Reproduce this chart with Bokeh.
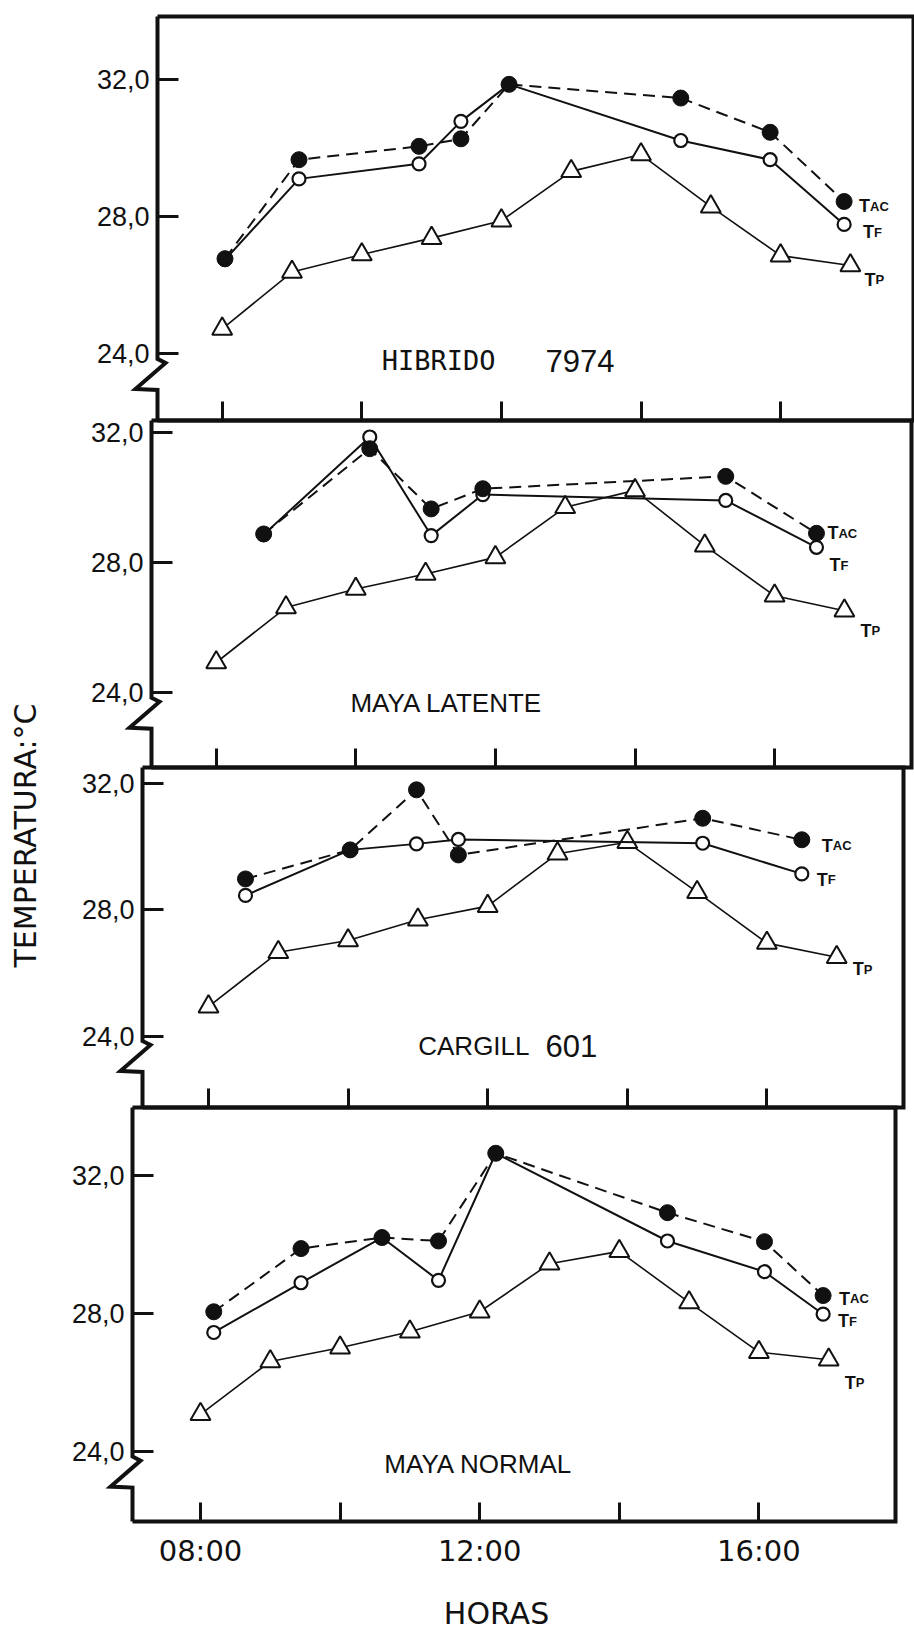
import math
from bokeh.plotting import figure
from bokeh.models import Range1d, LinearAxis, FixedTicker, Label
from bokeh.embed import file_html
from bokeh.resources import INLINE

W, H = 914, 1635

# ---------------- data ----------------
tp_hours = [8, 9, 10, 11, 12, 13, 14, 15, 16, 17]

p1_hours = [8.04, 9.10, 10.82, 11.42, 12.11, 14.57, 15.85, 16.91]
p1_tac = [26.78, 29.67, 30.06, 30.28, 31.87, 31.47, 30.47, 28.45]
p1_tf = [26.75, 29.11, 29.55, 30.79, 31.87, 30.23, 29.67, 27.78]
p1_tp = [24.73, 26.39, 26.90, 27.38, 27.89, 29.33, 29.82, 28.30, 26.87, 26.58]

p2_hours = [8.68, 10.20, 11.08, 11.82, 15.30, 16.60]
p2_tac = [28.88, 31.50, 29.65, 30.27, 30.65, 28.90]
p2_tf = [28.86, 31.86, 28.83, 30.09, 29.91, 28.47]
p2_tp = [24.93, 26.62, 27.19, 27.65, 28.16, 29.70, 30.22, 28.52, 26.98, 26.52]

p3_hours = [8.53, 10.03, 10.98, 11.58, 15.08, 16.50]
p3_tac = [28.97, 29.89, 31.79, 29.73, 30.89, 30.21]
p3_tf = [28.45, 29.89, 30.08, 30.22, 30.10, 29.13]
p3_tp = [24.93, 26.65, 27.02, 27.68, 28.11, 29.77, 30.13, 28.55, 26.94, 26.49]

p4_hours = [8.19, 9.44, 10.60, 11.41, 12.23, 14.69, 16.08, 16.92]
p4_tac = [28.05, 29.88, 30.20, 30.10, 32.64, 30.92, 30.08, 28.52]
p4_tf = [27.45, 28.89, 30.20, 28.96, 32.64, 30.10, 29.21, 27.98]
p4_tp = [25.08, 26.61, 27.01, 27.47, 28.05, 29.44, 29.80, 28.32, 26.88, 26.66]

y_ticks = [24, 28, 32]
y_tick_labels = {24: "24,0", 28: "28,0", 32: "32,0"}
x_ticks = [8, 10, 12, 14, 16]
x_tick_labels = {8: "08:00", 10: "", 12: "12:00", 14: "", 16: "16:00"}

panel_titles = [("HIBRIDO", "7974"), ("MAYA LATENTE", ""), ("CARGILL", "601"), ("MAYA NORMAL", "")]
series_names = [("T", "AC"), ("T", "F"), ("T", "P")]

# ---------------- layout (pixels, y measured from the top) ----------------
PXH = 69.8  # pixels per hour
geo = [
    dict(x8=221.7, y28=216.4, ppu=34.25, ax=157, rx=913, top=16, bot=420,
         title=(497, 360), lab=[(15, 5), (19, 8), (14, 14)]),
    dict(x8=215.7, y28=562.1, ppu=32.54, ax=151, rx=911, top=420, bot=767,
         title=(446, 702), lab=[(11, 0), (13, 18), (16, 20)]),
    dict(x8=208.0, y28=909.1, ppu=31.6, ax=142, rx=903, top=767, bot=1107,
         title=(503, 1045), lab=[(20, 6), (15, 6), (16, 12)]),
    dict(x8=200.0, y28=1313.0, ppu=34.53, ax=132, rx=895, top=1107, bot=1521,
         title=(478, 1463), lab=[(16, 3), (15, 7), (16, 23)]),
]
series = [
    (p1_hours, p1_tac, p1_tf, p1_tp),
    (p2_hours, p2_tac, p2_tf, p2_tp),
    (p3_hours, p3_tac, p3_tf, p3_tp),
    (p4_hours, p4_tac, p4_tf, p4_tp),
]

xr, yr = {}, {}
for k, g in enumerate(geo):
    xs = 8 - g["x8"] / PXH
    xr[f"x{k}"] = Range1d(xs, xs + W / PXH)
    ye = 28 + g["y28"] / g["ppu"]
    yr[f"y{k}"] = Range1d(ye - H / g["ppu"], ye)

p = figure(width=W, height=H, x_range=Range1d(0, W), y_range=Range1d(H, 0),
           x_axis_location=None, y_axis_location=None, min_border=0,
           output_backend="svg", toolbar_location=None, title=None)
p.extra_x_ranges = xr
p.extra_y_ranges = yr
p.outline_line_color = None
p.background_fill_color = "white"
p.border_fill_color = "white"
p.grid.grid_line_color = None
p.grid.visible = False

BLACK = "#111111"
TICK_FONT_Y = "Liberation Sans"
SANS = "DejaVu Sans"

for k, g in enumerate(geo):
    xn, yn = f"x{k}", f"y{k}"
    hours, tac, tf, tp = series[k]

    # frame: left axis with a break, right side, top and bottom
    y24 = g["y28"] + 4 * g["ppu"]
    ax = g["ax"]
    p.line([ax, ax, ax + 8, ax - 22, ax, ax],
           [g["top"], y24 + 5, y24 + 9, y24 + 35, y24 + 36, g["bot"]],
           line_color=BLACK, line_width=4, line_join="miter")
    p.line([ax, g["rx"], g["rx"], ax], [g["top"], g["top"], g["bot"], g["bot"]],
           line_color=BLACK, line_width=4, line_join="miter")

    # y axis (ticks inward)
    yax = LinearAxis(x_range_name="default", y_range_name=yn, fixed_location=ax,
                     ticker=FixedTicker(ticks=y_ticks), major_label_overrides=y_tick_labels,
                     major_tick_in=21, major_tick_out=0, minor_tick_in=0, minor_tick_out=0,
                     axis_line_color=None, major_tick_line_width=3, major_tick_line_color=BLACK,
                     major_label_standoff=8, major_label_text_font=TICK_FONT_Y,
                     major_label_text_font_size="27px", major_label_text_color=BLACK)
    p.add_layout(yax, "left")

    # x axis at the bottom of the panel (ticks inward)
    xax = LinearAxis(x_range_name=xn, y_range_name="default", fixed_location=g["bot"],
                     ticker=FixedTicker(ticks=x_ticks), major_label_overrides=x_tick_labels,
                     major_tick_in=19, major_tick_out=0, minor_tick_in=0, minor_tick_out=0,
                     axis_line_color=None, major_tick_line_width=3, major_tick_line_color=BLACK,
                     major_label_standoff=12, major_label_text_font=SANS,
                     major_label_text_font_size="29px", major_label_text_color=BLACK)
    if k < 3:
        xax.major_label_text_alpha = 0
    p.add_layout(xax, "below")

    # series
    p.line(tp_hours, tp, x_range_name=xn, y_range_name=yn, line_color=BLACK, line_width=1.6)
    p.scatter(tp_hours, tp, x_range_name=xn, y_range_name=yn, marker="triangle", size=20,
              fill_color="white", line_color=BLACK, line_width=2)
    p.line(hours, tf, x_range_name=xn, y_range_name=yn, line_color=BLACK, line_width=2)
    p.line(hours, tac, x_range_name=xn, y_range_name=yn, line_color=BLACK, line_width=2,
           line_dash="12 7")
    p.scatter(hours, tf, x_range_name=xn, y_range_name=yn, marker="circle", size=13,
              fill_color="white", line_color=BLACK, line_width=2.2)
    p.scatter(hours, tac, x_range_name=xn, y_range_name=yn, marker="circle", size=16,
              fill_color=BLACK, line_color=BLACK, line_width=1)

    # series labels next to last points
    lasts = [(hours[-1], tac[-1]), (hours[-1], tf[-1]), (tp_hours[-1], tp[-1])]
    for (lx, ly), (big, small), (dx, dy) in zip(lasts, series_names, g["lab"]):
        p.add_layout(Label(x=lx, y=ly, x_range_name=xn, y_range_name=yn, text=big,
                           x_offset=dx, y_offset=-dy, text_baseline="alphabetic",
                           text_font="Liberation Sans", text_font_style="bold",
                           text_font_size="18px", text_color=BLACK))
        p.add_layout(Label(x=lx, y=ly, x_range_name=xn, y_range_name=yn, text=small,
                           x_offset=dx + 11, y_offset=-dy, text_baseline="alphabetic",
                           text_font="Liberation Sans", text_font_style="bold",
                           text_font_size="13px", text_color=BLACK))

    # panel title
    name, num = panel_titles[k]
    tx, ty = g["title"]
    if num:
        if k == 0:
            p.add_layout(Label(x=tx - 2, y=ty, text=name, text_align="right",
                               text_baseline="middle", text_font="DejaVu Sans Mono",
                               text_font_size="27px", text_color=BLACK))
            p.add_layout(Label(x=tx + 48, y=ty, text=num, text_align="left",
                               text_baseline="middle", text_font="Liberation Sans",
                               text_font_size="31px", text_color=BLACK))
        else:
            p.add_layout(Label(x=tx + 26, y=ty, text=name, text_align="right",
                               text_baseline="middle", text_font="Liberation Sans",
                               text_font_size="26px", text_color=BLACK))
            p.add_layout(Label(x=tx + 42, y=ty, text=num, text_align="left",
                               text_baseline="middle", text_font="Liberation Sans",
                               text_font_size="31px", text_color=BLACK))
    else:
        p.add_layout(Label(x=tx, y=ty, text=name, text_align="center",
                           text_baseline="middle", text_font="Liberation Sans",
                           text_font_size="26px", text_color=BLACK))

# axis titles
p.add_layout(Label(x=496, y=1613, text="HORAS", text_align="center", text_baseline="middle",
                   text_font=SANS, text_font_size="30px", text_color=BLACK))
p.add_layout(Label(x=25, y=835, text="TEMPERATURA:°C", angle=math.pi / 2,
                   text_align="center", text_baseline="middle",
                   text_font=SANS, text_font_size="30px", text_color=BLACK))

open("out.html", "w").write(file_html(p, INLINE))
